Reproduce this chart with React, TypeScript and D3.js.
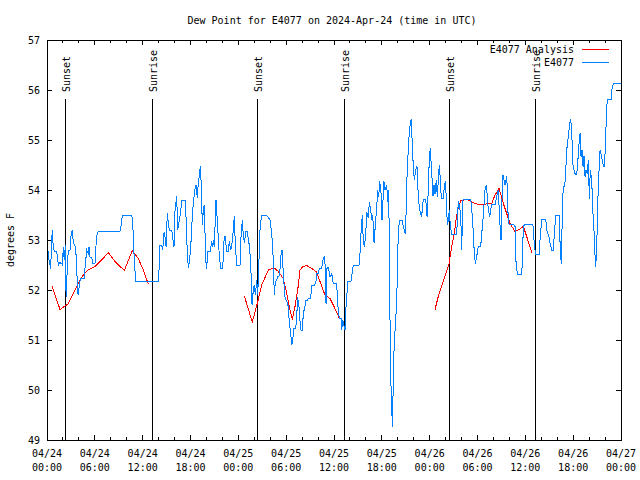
import * as d3 from "d3"

// hours after 2024-04-24 00:00 UTC, dew point in F
const startUtc = Date.UTC(2024, 3, 24)
const endUtc = Date.UTC(2024, 3, 27)

const yTickValues = [49, 50, 51, 52, 53, 54, 55, 56, 57]

const sunsetHours = [2.3, 26.38, 50.47]
const sunriseHours = [13.21, 37.22, 61.25]

const e4077Obs: [number, number][] = [
  [0.06, 52.8], [0.16, 52.77], [0.25, 52.6], [0.38, 52.5], [0.46, 52.42], [0.59, 53.0], [0.66, 53.2],
  [0.79, 52.85], [0.94, 52.77], [1.22, 52.77], [1.29, 52.67], [1.42, 52.5], [1.57, 52.55], [1.84, 52.53],
  [1.94, 52.5], [2.04, 52.85], [2.17, 52.6], [2.3, 52.9], [2.35, 52.1], [2.42, 51.86], [2.51, 52.3],
  [2.67, 52.8], [2.89, 52.8], [3.01, 53.07], [3.17, 53.2], [3.3, 52.95], [3.42, 52.9], [3.6, 52.85],
  [3.73, 52.4], [3.85, 51.95], [3.93, 51.9], [4.05, 52.1], [4.2, 52.23], [4.68, 52.23], [4.77, 52.44],
  [4.98, 52.8], [5.18, 52.73], [5.27, 52.86], [5.39, 52.66], [5.61, 52.66], [5.73, 52.53], [6.02, 52.53],
  [6.11, 52.8], [6.23, 53.08], [6.44, 53.18], [9.16, 53.18], [9.28, 53.27], [9.45, 53.49], [10.62, 53.49],
  [10.75, 53.4], [10.83, 53.0], [10.98, 52.5], [11.13, 52.18], [13.96, 52.18], [14.05, 52.4], [14.17, 52.9],
  [14.39, 52.9], [14.51, 52.8], [14.68, 53.15], [14.8, 53.07], [14.93, 52.87], [15.09, 53.53], [15.22, 53.33],
  [15.34, 53.2], [15.64, 53.2], [15.77, 53.05], [15.93, 52.87], [16.06, 53.6], [16.27, 53.87], [16.39, 53.2],
  [16.6, 53.4], [16.77, 53.57], [16.9, 53.8], [17.31, 53.8], [17.44, 53.45], [17.56, 52.9], [17.72, 52.45],
  [17.85, 52.55], [18.03, 52.85], [18.15, 53.27], [18.35, 53.75], [18.57, 54.03], [18.69, 54.1], [18.85, 53.85],
  [18.98, 54.13], [19.1, 54.27], [19.23, 54.47], [19.36, 54.07], [19.48, 53.3], [19.61, 53.6], [19.73, 53.7],
  [19.91, 52.6], [20.03, 52.43], [20.16, 52.77], [20.45, 52.77], [20.66, 52.97], [20.79, 52.87], [20.86, 53.0],
  [20.99, 52.87], [21.2, 53.8], [21.36, 53.4], [21.61, 52.7], [21.79, 52.43], [22.04, 52.43], [22.12, 52.7],
  [22.2, 52.97], [22.33, 53.07], [22.45, 52.9], [22.54, 52.77], [22.74, 52.77], [22.87, 52.97], [23.04, 52.8],
  [23.17, 52.87], [23.37, 53.2], [23.5, 53.48], [23.62, 52.9], [23.8, 52.5], [24.21, 52.5], [24.34, 53.07],
  [24.5, 53.4], [24.62, 53.1], [24.75, 52.95], [24.96, 53.18], [25.13, 53.18], [25.25, 53.0], [25.38, 52.9],
  [25.55, 52.53], [25.72, 51.7], [25.88, 52.0], [26.0, 52.1], [26.13, 51.9], [26.31, 52.2], [26.43, 51.9],
  [26.56, 52.47], [26.72, 53.2], [26.84, 53.4], [26.97, 53.49], [27.56, 53.49], [27.76, 53.45], [27.97, 53.4],
  [28.19, 53.13], [28.39, 52.6], [28.51, 51.9], [28.64, 52.17], [28.81, 52.2], [28.94, 52.27], [29.1, 52.27],
  [29.23, 52.43], [29.35, 52.7], [29.48, 52.8], [29.57, 52.53], [29.69, 52.2], [29.86, 51.85], [30.07, 51.77],
  [30.27, 51.67], [30.39, 51.35], [30.57, 51.13], [30.7, 50.9], [30.82, 51.0], [30.9, 51.13], [30.98, 51.23],
  [31.2, 51.23], [31.32, 51.47], [31.45, 51.85], [31.61, 51.67], [31.74, 51.37], [31.86, 51.2], [32.03, 51.2],
  [32.15, 51.53], [32.36, 51.67], [32.49, 51.8], [32.7, 51.8], [32.78, 51.83], [32.99, 51.83], [33.12, 51.93],
  [33.2, 52.1], [33.53, 52.1], [33.71, 52.13], [33.83, 52.33], [34.03, 52.33], [34.16, 52.43], [34.46, 52.43],
  [34.58, 52.57], [34.75, 52.67], [34.87, 52.53], [35.0, 51.73], [35.12, 52.43], [35.29, 52.45], [35.5, 52.27],
  [35.71, 52.33], [35.91, 52.13], [36.34, 52.13], [36.47, 51.7], [36.67, 51.43], [36.88, 51.43], [36.97, 51.2],
  [37.09, 51.4], [37.22, 51.3], [37.38, 51.2], [37.51, 51.67], [37.63, 51.93], [37.72, 52.17], [38.13, 52.17],
  [38.22, 52.27], [38.42, 52.5], [39.14, 52.5], [39.26, 52.73], [39.39, 53.15], [39.55, 53.5], [39.68, 52.95],
  [39.8, 52.87], [39.98, 53.1], [40.1, 53.55], [40.3, 53.45], [40.43, 53.75], [40.61, 53.6], [40.73, 53.4],
  [40.86, 53.5], [41.02, 52.95], [41.14, 53.2], [41.36, 53.67], [41.48, 54.0], [41.61, 53.87], [41.73, 54.17],
  [41.9, 53.93], [42.02, 53.4], [42.15, 53.8], [42.27, 54.17], [42.4, 54.0], [42.61, 54.1], [42.74, 53.77],
  [42.81, 54.0], [42.94, 53.2], [43.02, 51.5], [43.1, 50.4], [43.22, 49.67], [43.34, 49.27], [43.47, 50.53],
  [43.6, 51.07], [43.75, 51.4], [43.9, 52.0], [44.03, 52.93], [44.19, 53.4], [44.57, 53.4], [44.69, 53.27],
  [44.91, 53.13], [45.03, 53.47], [45.12, 54.13], [45.25, 54.6], [45.41, 55.07], [45.57, 55.33], [45.7, 55.42],
  [45.82, 54.87], [45.95, 54.47], [46.07, 54.2], [46.25, 54.4], [46.41, 54.47], [46.54, 54.0], [46.66, 53.73],
  [46.83, 53.53], [47.0, 53.47], [47.13, 53.73], [47.25, 53.82], [47.5, 53.82], [47.67, 53.47], [47.83, 54.0],
  [47.96, 54.67], [48.08, 54.83], [48.26, 54.33], [48.42, 53.87], [48.55, 54.1], [48.67, 53.93], [48.83, 54.2],
  [48.96, 53.87], [49.08, 54.2], [49.21, 54.5], [49.34, 54.2], [49.46, 53.83], [49.71, 53.83], [49.84, 54.07],
  [49.96, 54.17], [50.09, 53.83], [50.21, 53.3], [50.34, 53.4], [50.47, 53.6], [50.59, 53.27], [50.77, 53.11],
  [51.39, 53.11], [51.52, 53.6], [51.64, 53.77], [51.81, 53.6], [51.93, 53.3], [52.02, 52.8], [52.15, 53.8],
  [52.27, 53.81], [53.06, 53.81], [53.19, 53.76], [53.35, 53.47], [53.48, 53.13], [53.6, 52.73], [53.73, 52.53],
  [53.9, 52.67], [54.1, 52.87], [54.4, 52.87], [54.53, 53.13], [54.65, 53.33], [54.78, 53.6], [54.94, 54.0],
  [55.11, 54.1], [55.23, 53.87], [55.36, 53.6], [55.53, 53.47], [55.66, 53.6], [55.78, 53.71], [56.2, 53.71],
  [56.41, 53.87], [56.61, 54.0], [56.82, 53.3], [56.95, 53.0], [57.07, 53.8], [57.2, 54.3], [57.33, 54.2],
  [57.45, 54.1], [57.67, 54.27], [57.74, 54.0], [57.87, 53.33], [57.99, 53.32], [58.49, 53.32], [58.71, 53.27],
  [58.83, 52.57], [58.99, 52.32], [59.55, 52.32], [59.62, 52.57], [59.75, 53.27], [59.96, 53.32], [60.8, 53.32],
  [61.0, 53.27], [61.13, 52.87], [61.3, 52.72], [61.75, 52.72], [61.84, 53.0], [62.06, 53.41], [62.47, 53.41],
  [62.6, 53.35], [62.76, 53.13], [62.93, 53.1], [63.1, 52.93], [63.31, 52.8], [63.51, 52.8], [63.63, 53.1],
  [63.81, 53.49], [64.26, 53.49], [64.38, 52.8], [64.51, 52.53], [64.69, 53.9], [64.85, 54.07], [65.02, 54.2],
  [65.19, 54.8], [65.32, 54.97], [65.44, 55.13], [65.57, 55.33], [65.69, 55.41], [65.82, 55.2], [65.94, 54.53],
  [66.11, 54.4], [66.23, 54.33], [66.36, 54.3], [66.52, 54.4], [66.7, 54.87], [66.86, 55.13], [66.99, 54.67],
  [67.11, 54.8], [67.24, 54.47], [67.36, 54.67], [67.49, 54.27], [67.61, 54.4], [67.78, 54.33], [67.9, 54.6],
  [68.03, 53.83], [68.15, 54.4], [68.33, 54.2], [68.45, 53.6], [68.58, 53.33], [68.7, 52.8], [68.83, 52.47],
  [68.96, 52.87], [69.08, 53.73], [69.21, 54.27], [69.37, 54.8], [69.53, 54.7], [69.71, 54.53], [69.87, 54.47],
  [70.03, 54.8], [70.16, 55.47], [70.28, 55.81], [70.75, 55.81], [70.87, 56.01], [71.04, 56.13], [71.94, 56.13],
]

const analysisDay1: [number, number][] = [
  [0.66, 52.07], [1.63, 51.61], [2.63, 51.72], [3.3, 51.93], [3.93, 52.13], [4.55, 52.3], [5.18, 52.4],
  [6.02, 52.47], [6.86, 52.6], [7.69, 52.75], [8.53, 52.57], [9.7, 52.39], [10.7, 52.79], [11.45, 52.63],
  [12.08, 52.4], [12.7, 52.12],
]
const analysisDay2: [number, number][] = [
  [24.75, 51.88], [25.75, 51.36], [26.38, 51.73], [26.93, 52.1], [27.76, 52.4], [28.51, 52.44], [29.01, 52.37],
  [29.64, 52.23], [30.07, 51.93], [30.48, 51.6], [30.77, 51.41], [31.11, 51.67], [31.45, 52.0], [31.74, 52.4],
  [32.07, 52.47], [32.58, 52.49], [33.2, 52.43], [33.74, 52.37], [34.03, 52.27], [34.46, 52.07], [34.87, 51.9],
  [35.5, 51.83], [35.91, 51.7], [36.34, 51.55], [36.63, 51.45],
]
const analysisDay3: [number, number][] = [
  [48.67, 51.61], [49.08, 51.87], [49.71, 52.17], [50.43, 52.53], [50.77, 52.87], [51.09, 53.13], [51.31, 53.4],
  [51.6, 53.67], [51.93, 53.79], [52.65, 53.81], [53.27, 53.76], [53.9, 53.72], [54.53, 53.7], [55.36, 53.73],
  [55.78, 53.73], [56.2, 53.9], [56.7, 54.03], [57.24, 53.73], [57.66, 53.53], [58.08, 53.33], [58.71, 53.17],
  [59.12, 53.2], [59.75, 53.27], [60.17, 53.07], [60.8, 52.75],
]

const W = 640
const H = 480
const margin = { top: 40, right: 19, bottom: 40, left: 47 }
const font = "'DejaVu Sans Mono', monospace"
const blue = "#0080ff"
const red = "#ff0000"

const toDate = (h: number) => new Date(startUtc + h * 3600e3)

export default function App() {
  const x = d3.scaleUtc()
    .domain([new Date(startUtc), new Date(endUtc)])
    .range([margin.left, W - margin.right])
  const y = d3.scaleLinear().domain([49, 57]).range([H - margin.bottom, margin.top])

  const line = d3.line<[number, number]>()
    .x(d => x(toDate(d[0])))
    .y(d => y(d[1]))

  const majorTicks = x.ticks(d3.utcHour.every(6)!)
  const minorTicks = x.ticks(d3.utcHour.every(2)!).filter(t => t.getUTCHours() % 6 !== 0)
  const fmtDay = d3.utcFormat("%m/%d")
  const fmtTime = d3.utcFormat("%H:%M")

  const x0 = margin.left
  const x1 = W - margin.right
  const yTop = margin.top
  const yBot = H - margin.bottom

  const sunEvents = [
    ...sunsetHours.map(h => ({ h, label: "Sunset" })),
    ...sunriseHours.map(h => ({ h, label: "Sunrise" })),
  ]

  return (
    <svg width={W} height={H} style={{ position: "fixed", left: 0, top: 0, background: "#fff" }}
      fontFamily={font} fontSize={10}>
      <rect x={0} y={0} width={W} height={H} fill="#fff" />

      {/* ticks */}
      <g stroke="#000" strokeWidth={1} shapeRendering="crispEdges">
        {yTickValues.map(v => (
          <g key={"yt" + v}>
            <line x1={x0} x2={x0 + 5} y1={y(v)} y2={y(v)} />
            <line x1={x1} x2={x1 - 5} y1={y(v)} y2={y(v)} />
          </g>
        ))}
        {majorTicks.map(t => (
          <g key={"xt" + +t}>
            <line x1={x(t)} x2={x(t)} y1={yBot} y2={yBot - 5} />
            <line x1={x(t)} x2={x(t)} y1={yTop} y2={yTop + 5} />
          </g>
        ))}
        {minorTicks.map(t => (
          <g key={"xm" + +t}>
            <line x1={x(t)} x2={x(t)} y1={yBot} y2={yBot - 3} />
            <line x1={x(t)} x2={x(t)} y1={yTop} y2={yTop + 3} />
          </g>
        ))}
      </g>

      {/* tick labels */}
      {yTickValues.map(v => (
        <text key={"yl" + v} x={x0 - 7} y={y(v) + 4} textAnchor="end">{v}</text>
      ))}
      {majorTicks.map(t => (
        <text key={"xl" + +t} x={x(t)} textAnchor="middle">
          <tspan x={x(t)} y={yBot + 17}>{fmtDay(t)}</tspan>
          <tspan x={x(t)} y={yBot + 31}>{fmtTime(t)}</tspan>
        </text>
      ))}

      <text x={332} y={24} textAnchor="middle">Dew Point for E4077 on 2024-Apr-24 (time in UTC)</text>
      <text transform={`translate(14,${(yTop + yBot) / 2}) rotate(-90)`} textAnchor="middle">degrees F</text>

      {/* sunrise / sunset markers */}
      {sunEvents.map(e => {
        const px = Math.round(x(toDate(e.h))) + 0.5
        return (
          <g key={e.label + e.h}>
            <line x1={px} x2={px} y1={99} y2={yBot} stroke="#000" strokeWidth={1} shapeRendering="crispEdges" />
            <text transform={`translate(${px + 4.5},92) rotate(-90)`}>{e.label}</text>
          </g>
        )
      })}

      {/* data */}
      <g fill="none" strokeWidth={1} shapeRendering="crispEdges">
        {[analysisDay1, analysisDay2, analysisDay3].map((seg, i) => (
          <path key={"a" + i} d={line(seg) ?? ""} stroke={red} />
        ))}
        <path d={line(e4077Obs) ?? ""} stroke={blue} />
      </g>

      {/* legend */}
      <text x={574} y={53} textAnchor="end">E4077 Analysis</text>
      <line x1={582} x2={609} y1={49.5} y2={49.5} stroke={red} strokeWidth={1} shapeRendering="crispEdges" />
      <text x={574} y={66} textAnchor="end">E4077</text>
      <line x1={582} x2={609} y1={62.5} y2={62.5} stroke={blue} strokeWidth={1} shapeRendering="crispEdges" />

      <rect x={x0 + 0.5} y={yTop + 0.5} width={x1 - x0} height={yBot - yTop} fill="none" stroke="#000"
        strokeWidth={1} shapeRendering="crispEdges" />
    </svg>
  )
}
